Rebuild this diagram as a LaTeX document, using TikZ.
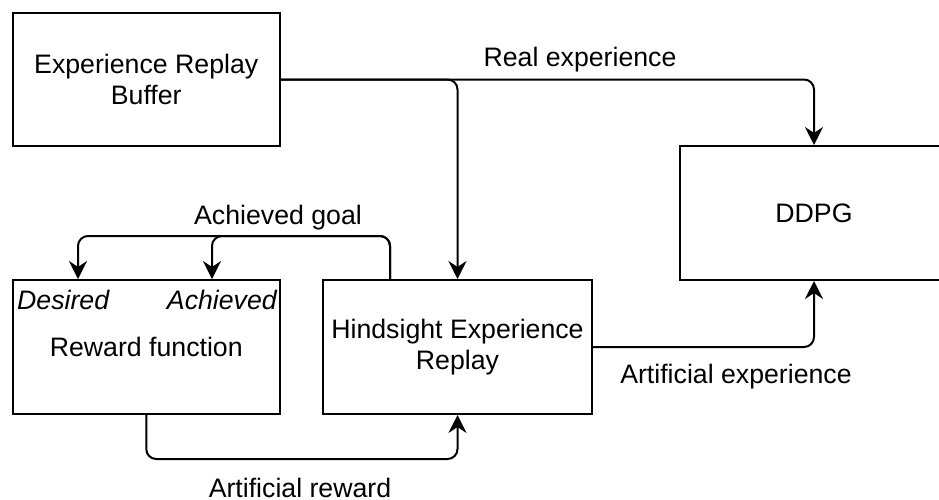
\documentclass[tikz,border=0pt]{standalone}
\usepackage{fontspec}
\setmainfont{Liberation Sans}
\usetikzlibrary{arrows.meta,calc}
\begin{document}
\begin{tikzpicture}[x=1pt,y=-1pt,
  box/.style={draw, line width=2pt, anchor=north west, inner sep=0pt, align=center,
    font=\fontsize{26.7}{31}\selectfont},
  arr/.style={draw, line width=2pt, rounded corners=10pt,
    -{Stealth[length=18pt,width=18pt,inset=6pt]}},
  lbl/.style={font=\fontsize{26.7}{31}\selectfont, inner sep=0pt},
  tag/.style={font=\fontsize{26.7}{31}\selectfont\itshape, inner sep=0pt}]
\useasboundingbox (0,0) rectangle (939,499);
\node[box, minimum width=267.5pt, minimum height=133pt] (erb) at (11.5,12) {Experience Replay\\Buffer};
\node[box, minimum width=268pt, minimum height=134pt] (ddpg) at (679,145) {DDPG};
\node[box, minimum width=267.5pt, minimum height=134pt] (rew) at (11.5,279) {Reward function};
\node[box, minimum width=269pt, minimum height=134pt] (her) at (322,279) {Hindsight Experience\\Replay};
\node[tag, anchor=west] (des) at (17,300) {Desired};
\node[tag, anchor=east] (ach) at (277,300) {Achieved};
\coordinate (hs) at ($(her.north west)+(68,0)$);
\coordinate (rd) at ($(rew.north west)+(66.5,0)$);
\coordinate (ra) at ($(rew.north west)+(200.5,0)$);
\draw[arr] (erb.east) -| (her.north);
\draw[arr] (erb.east) -| (ddpg.north);
\draw[arr] (hs) |- ($(rd)+(0,-43)$) -- (rd);
\draw[arr] (hs) |- ($(ra)+(0,-43)$) -- (ra);
\draw[arr] (rew.south) -- ++(0,44) -| (her.south);
\draw[arr] (her.east) -| (ddpg.south);
\node[lbl] (lre) at (580,60) {Real experience};
\node[lbl] (lag) at (278,218) {Achieved goal};
\node[lbl] (lar) at (300,488) {Artificial reward};
\node[lbl] (lae) at (736,377) {Artificial experience};
\end{tikzpicture}
\end{document}
